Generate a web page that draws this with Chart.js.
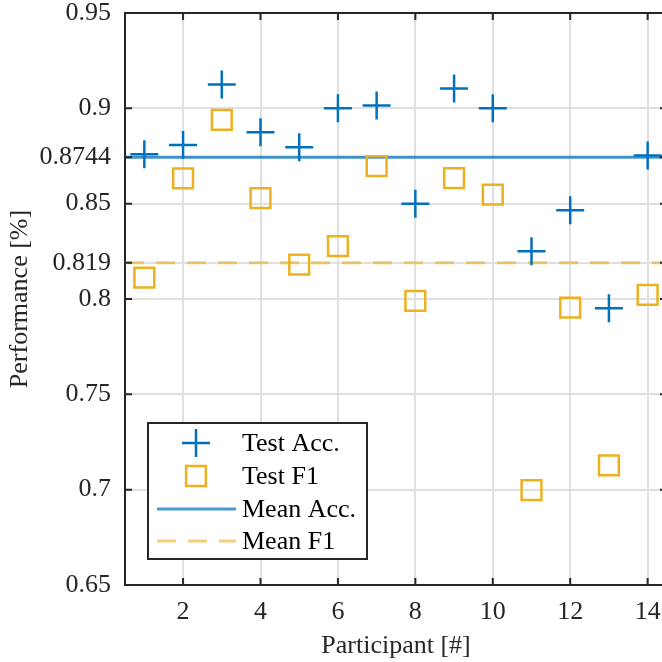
<!DOCTYPE html>
<html>
<head>
<meta charset="utf-8">
<script src="https://cdn.jsdelivr.net/npm/chart.js@4/dist/chart.umd.min.js"></script>
<style>
  html, body { margin: 0; padding: 0; overflow: hidden; background: #fff; }
  #wrap { position: relative; width: 672px; height: 662px; }
</style>
</head>
<body>
<div id="wrap"><canvas id="perf"></canvas></div>
<script>
(function () {
    // values
    const participants = [1, 2, 3, 4, 5, 6, 7, 8, 9, 10, 11, 12, 13, 14];
    const testAcc = [0.8759, 0.8808, 0.9125, 0.8875, 0.8796, 0.9001, 0.9015,
                     0.8500, 0.9104, 0.9001, 0.8251, 0.8465, 0.7952, 0.8752];
    const testF1 = [0.8112, 0.8633, 0.8939, 0.8529, 0.8180, 0.8277, 0.8697,
                    0.7990, 0.8634, 0.8547, 0.6998, 0.7955, 0.7127, 0.8022];
    const meanAcc = 0.8744;
    const meanF1 = 0.819;
    const xRange = [0.5, 14.5];
    const xTicks = [2, 4, 6, 8, 10, 12, 14];
    const yTicks = [0.65, 0.7, 0.75, 0.8, 0.819, 0.85, 0.8744, 0.9, 0.95];
    const yTickLabels = ['0.65', '0.7', '0.75', '0.8', '0.819', '0.85', '0.8744', '0.9', '0.95'];

    const FONT = 'Liberation Serif';
    const FSIZE = 26;
    const AXIS = '#262626';
    const GRID = '#e0e0e0';

    const pts = (ys) => participants.map((x, i) => ({ x: x, y: ys[i] }));
    const flat = (v) => xRange.map(x => ({ x: x, y: v }));

    // box, inward ticks and legend, drawn like the matlab figure
    const frame = {
        id: 'frame',
        afterDraw(chart) {
            const ctx = chart.ctx;
            const a = chart.chartArea;
            const xs = chart.scales.x, ys = chart.scales.y;
            const tl = 7;
            ctx.save();
            ctx.strokeStyle = AXIS;
            ctx.lineWidth = 2;
            ctx.beginPath();
            ctx.moveTo(a.left, a.top); ctx.lineTo(a.right, a.top);
            ctx.moveTo(a.right, a.top); ctx.lineTo(a.right, a.bottom);
            xTicks.forEach(v => {
                const px = xs.getPixelForValue(v);
                ctx.moveTo(px, a.bottom); ctx.lineTo(px, a.bottom - tl);
                ctx.moveTo(px, a.top); ctx.lineTo(px, a.top + tl);
            });
            yTicks.forEach(v => {
                const py = ys.getPixelForValue(v);
                ctx.moveTo(a.left, py); ctx.lineTo(a.left + tl, py);
                ctx.moveTo(a.right, py); ctx.lineTo(a.right - tl, py);
            });
            ctx.stroke();

            // legend
            const bx = 148, by = 423, bw = 219, bh = 136;
            ctx.fillStyle = '#fff';
            ctx.fillRect(bx, by, bw, bh);
            ctx.strokeRect(bx, by, bw, bh);
            const rowY = [443, 476, 509, 541];
            const mx = 196, tx = 242;
            chart.data.datasets.forEach((d, i) => {
                const y = rowY[i];
                ctx.save();
                ctx.strokeStyle = d.borderColor;
                ctx.fillStyle = 'rgba(0,0,0,0)';
                ctx.lineWidth = d.borderWidth;
                if (d.showLine === false) {
                    Chart.helpers.drawPoint(ctx, {
                        pointStyle: d.pointStyle, radius: d.pointRadius,
                        borderWidth: d.borderWidth, rotation: 0
                    }, mx, y);
                } else {
                    ctx.setLineDash(d.borderDash || []);
                    ctx.beginPath();
                    ctx.moveTo(157, y); ctx.lineTo(236, y);
                    ctx.stroke();
                }
                ctx.restore();
                ctx.fillStyle = '#000';
                ctx.font = FSIZE + 'px "' + FONT + '"';
                ctx.textBaseline = 'middle';
                ctx.textAlign = 'left';
                ctx.fillText(d.label, tx, y + 1);
            });
            ctx.restore();
        }
    };

    new Chart(document.getElementById('perf').getContext('2d'), {
        type: 'scatter',
        data: {
            datasets: [{
                label: 'Test Acc.',
                data: pts(testAcc),
                showLine: false,
                pointStyle: 'cross',
                pointRadius: 14,
                borderColor: '#0072BD',
                backgroundColor: '#0072BD',
                borderWidth: 2.5
            }, {
                label: 'Test F1',
                data: pts(testF1),
                showLine: false,
                pointStyle: 'rect',
                pointRadius: 14,
                borderColor: '#EDB120',
                backgroundColor: 'rgba(0,0,0,0)',
                borderWidth: 2.5
            }, {
                label: 'Mean Acc.',
                data: flat(meanAcc),
                showLine: true,
                pointRadius: 0,
                borderColor: 'rgba(0,114,189,0.72)',
                borderWidth: 3
            }, {
                label: 'Mean F1',
                data: flat(meanF1),
                showLine: true,
                pointRadius: 0,
                borderColor: 'rgba(237,177,32,0.62)',
                borderDash: [19, 12],
                borderWidth: 3
            }]
        },
        options: {
            responsive: true,
            maintainAspectRatio: false,
            animation: false,
            events: [],
            layout: { autoPadding: false, padding: { left: 0, top: 13, right: 5, bottom: 0 } },
            plugins: { legend: { display: false }, tooltip: { enabled: false } },
            scales: {
                x: {
                    type: 'linear',
                    min: xRange[0],
                    max: xRange[1],
                    afterBuildTicks: s => { s.ticks = xTicks.map(v => ({ value: v })); },
                    afterFit: s => { s.height = 77; s.paddingLeft = 0; s.paddingRight = 0; },
                    grid: { color: GRID, lineWidth: 2, drawTicks: false },
                    border: { display: true, color: AXIS, width: 2 },
                    ticks: { padding: 12, color: AXIS, font: { family: FONT, size: FSIZE } },
                    title: {
                        display: true, text: 'Participant [#]', color: AXIS,
                        font: { family: FONT, size: FSIZE }, padding: { top: 0, bottom: 0 }
                    }
                },
                y: {
                    min: 0.65,
                    max: 0.95,
                    afterBuildTicks: s => { s.ticks = yTicks.map(v => ({ value: v })); },
                    afterFit: s => { s.width = 125; s.paddingTop = 0; s.paddingBottom = 0; },
                    grid: { color: GRID, lineWidth: 2, drawTicks: false },
                    border: { display: true, color: AXIS, width: 2 },
                    ticks: {
                        padding: 14, color: AXIS, font: { family: FONT, size: FSIZE },
                        callback: (v) => {
                            const i = yTicks.indexOf(v);
                            return i >= 0 ? yTickLabels[i] : '';
                        }
                    },
                    title: {
                        display: true, text: 'Performance [%]', color: AXIS,
                        font: { family: FONT, size: FSIZE }, padding: { top: 5, bottom: 0 }
                    }
                }
            }
        },
        plugins: [frame]
    });
})();
</script>
</body>
</html>
